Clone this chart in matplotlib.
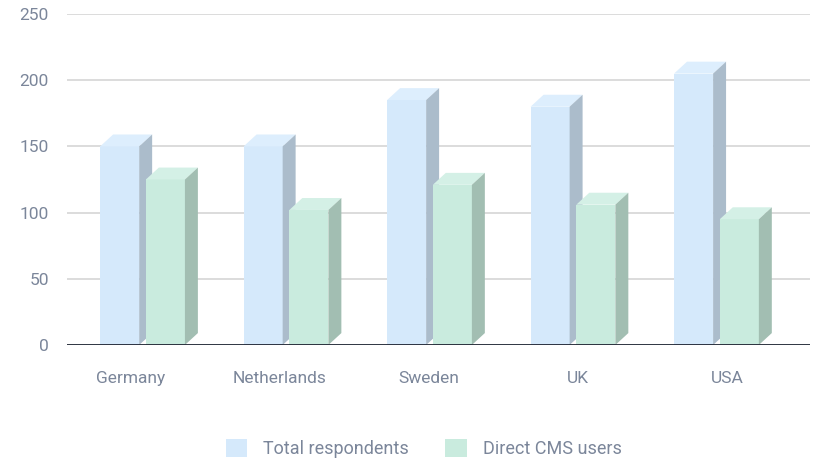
import matplotlib.pyplot as plt
import numpy as np
from matplotlib.patches import Polygon, Patch

plt.rcParams['font.family'] = ['Roboto', 'DejaVu Sans']

# Data
countries = ['Germany', 'Netherlands', 'Sweden', 'UK', 'USA']
total_respondents = [150, 150, 185, 180, 205]
direct_cms_users = [125, 102, 121, 106, 95]
series_names = ['Total respondents', 'Direct CMS users']

# colours: front, top, side
blue = ('#d5e9fb', '#ddeefd', '#abbccb')
green = ('#c9ebde', '#d4f0e6', '#a2beb2')
text_col = '#7b869a'

fig = plt.figure(figsize=(8.15, 4.59), dpi=100)
ax = fig.add_axes([0.0822, 0.2484, 0.9117, 0.7211])

ax.set_xlim(-0.43, 4.557)
ax.set_ylim(0, 250)

w = 0.262      # bar width
gap = 0.045    # gap between the two bars of a group
dx = 0.087     # depth, x
dy = 9.0       # depth, y


def bar3d(x0, h, cols, z):
    front, top, side = cols
    ax.add_patch(Polygon([(x0, 0), (x0 + w, 0), (x0 + w, h), (x0, h)],
                         closed=True, facecolor=front, edgecolor='none', zorder=z))
    ax.add_patch(Polygon([(x0, h), (x0 + dx, h + dy), (x0 + w + dx, h + dy), (x0 + w, h)],
                         closed=True, facecolor=top, edgecolor='none', zorder=z))
    ax.add_patch(Polygon([(x0 + w, 0), (x0 + w + dx, dy), (x0 + w + dx, h + dy), (x0 + w, h)],
                         closed=True, facecolor=side, edgecolor='none', zorder=z))


centers = 0.077 + 0.963 * np.arange(len(countries))
for i, c in enumerate(centers):
    bar3d(c - gap / 2 - w, total_respondents[i], blue, 3)
    bar3d(c + gap / 2, direct_cms_users[i], green, 4)

# grid + baseline
for v in [50, 100, 150, 200, 250]:
    ax.axhline(v, color='#d2d2d2', lw=1.1, zorder=1)
ax.axhline(0, color='#1c2230', lw=2, zorder=5)

ax.set_yticks([0, 50, 100, 150, 200, 250])
ax.set_xticks(range(len(countries)))
ax.set_xticklabels(countries)
ax.tick_params(axis='both', length=0, labelsize=12.5, labelcolor=text_col)
ax.tick_params(axis='x', pad=19)
ax.tick_params(axis='y', pad=13)
for s in ax.spines.values():
    s.set_visible(False)

handles = [Patch(facecolor=blue[0], edgecolor='none'),
           Patch(facecolor=green[0], edgecolor='none')]
fig.legend(handles, series_names, loc='lower center', bbox_to_anchor=(0.52, -0.033),
           ncol=2, frameon=False, fontsize=13, labelcolor=text_col,
           handlelength=1.2, handleheight=1.2, handletextpad=0.9, columnspacing=2.0)

fig.savefig('out.png', dpi=100)
